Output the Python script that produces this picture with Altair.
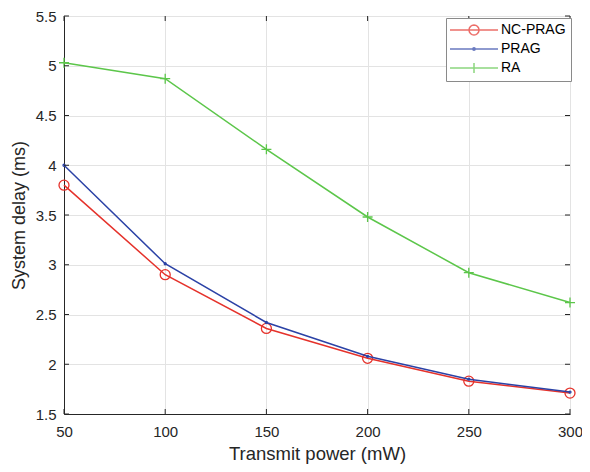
import math
import altair as alt
import pandas as pd

power = [50, 100, 150, 200, 250, 300]
nc_prag = [3.80, 2.90, 2.36, 2.06, 1.83, 1.71]
prag = [4.00, 3.01, 2.42, 2.08, 1.85, 1.72]
ra = [5.03, 4.87, 4.16, 3.48, 2.92, 2.62]

series_names = ["NC-PRAG", "PRAG", "RA"]
series_colors = ["#e5322b", "#2b42a6", "#5cc64a"]
x_ticks = [50, 100, 150, 200, 250, 300]
y_ticks = [1.5, 2, 2.5, 3, 3.5, 4, 4.5, 5, 5.5]

FONT = "Liberation Sans"
TXT = "#262626"
W, H = 506, 398

rows = []
for name, vals in zip(series_names, [nc_prag, prag, ra]):
    for p, v in zip(power, vals):
        rows.append({"power": p, "delay": v, "series": name})
df = pd.DataFrame(rows)

xscale = alt.Scale(domain=[50, 300], nice=False, zero=False)
yscale = alt.Scale(domain=[1.5, 5.5], nice=False, zero=False)
cscale = alt.Scale(domain=series_names, range=series_colors)

xaxis = alt.Axis(values=x_ticks, title="Transmit power (mW)", ticks=False,
                 grid=True, gridColor="#e3e3e3", domainColor=TXT,
                 labelFont=FONT, labelFontSize=15, labelColor=TXT, labelPadding=10,
                 titleFont=FONT, titleFontSize=18.5, titleFontWeight="normal",
                 titleColor=TXT, titlePadding=5, labelFlush=False)
yaxis = alt.Axis(values=y_ticks, title="System delay (ms)", ticks=False, format="~g",
                 grid=True, gridColor="#e3e3e3", domainColor=TXT,
                 labelFont=FONT, labelFontSize=15, labelColor=TXT, labelPadding=8,
                 titleFont=FONT, titleFontSize=18, titleFontWeight="normal",
                 titleColor=TXT, titlePadding=7, labelFlush=False)

base = alt.Chart(df)

marker_shapes = {
    "NC-PRAG": ("circle", 100),
    "PRAG": ("circle", 4),
    "RA": ("M-1,0H1M0,-1V1", 100),
}
series_layers = []
for name, col in zip(series_names, series_colors):
    shp, sz = marker_shapes[name]
    sub = base.transform_filter(alt.datum.series == name)
    enc = dict(x=alt.X("power:Q", scale=xscale, axis=xaxis),
               y=alt.Y("delay:Q", scale=yscale, axis=yaxis))
    series_layers.append(sub.mark_line(strokeWidth=1.5, color=col).encode(**enc))
    series_layers.append(
        sub.mark_point(shape=shp, size=sz, filled=False, strokeWidth=1.3,
                       color=col, opacity=1).encode(**enc))

# inward ticks on all four sides (drawn through the shared scales)
xt = pd.DataFrame({"power": x_ticks})
yt = pd.DataFrame({"delay": y_ticks})
tick_style = dict(color=TXT, strokeWidth=1)
ticks_bottom = alt.Chart(xt).mark_rule(**tick_style).encode(
    x=alt.X("power:Q", scale=xscale, axis=xaxis), y=alt.value(H), y2=alt.value(H - 5))
ticks_top = alt.Chart(xt).mark_rule(**tick_style).encode(
    x=alt.X("power:Q", scale=xscale, axis=xaxis), y=alt.value(0), y2=alt.value(5))
ticks_left = alt.Chart(yt).mark_rule(**tick_style).encode(
    y=alt.Y("delay:Q", scale=yscale, axis=yaxis), x=alt.value(0), x2=alt.value(5))
ticks_right = alt.Chart(yt).mark_rule(**tick_style).encode(
    y=alt.Y("delay:Q", scale=yscale, axis=yaxis), x=alt.value(W), x2=alt.value(W - 5))


# legend symbols: a line segment with the series marker (polygon circles)
def ring(cx, r, n=16):
    pts = []
    for i in range(n + 1):
        a = 2 * math.pi * i / n
        pts.append(f"{cx + r * math.cos(a):.3f},{r * math.sin(a):.3f}")
    return "M" + "L".join(pts)


LINE = "M-1.333,0L6.667,0"
legend_paths = [
    LINE + ring(2.667, 0.833),
    LINE + ring(2.667, 0.2, 8),
    LINE + "M2.667,-0.833L2.667,0.833",
]
leg = dict(orient="none", legendX=382, legendY=2, title=None,
           fillColor="white", strokeColor="#8a8a8a", padding=5,
           labelFont=FONT, labelFontSize=14, labelColor="black",
           labelOffset=36, symbolSize=144, symbolStrokeWidth=1.5, rowPadding=4)
legend_df = pd.DataFrame({"series": series_names})
legend_layer = alt.Chart(legend_df).mark_point(
    filled=False, strokeWidth=1.5, size=144).encode(
    x=alt.value(-3000), y=alt.value(-3000),
    color=alt.Color("series:N", scale=cscale, legend=alt.Legend(**leg)),
    shape=alt.Shape("series:N", scale=alt.Scale(domain=series_names, range=legend_paths),
                    legend=alt.Legend(**leg)),
)

chart = alt.layer(
    *series_layers, ticks_bottom, ticks_top, ticks_left, ticks_right, legend_layer
).properties(
    width=W, height=H,
    autosize=alt.AutoSizeParams(type="none"),
    padding={"left": 56, "top": 8, "right": 12, "bottom": 50},
).configure_view(stroke=TXT, strokeWidth=1)

chart.save("out.html", embed_options={"renderer": "svg", "actions": False})
